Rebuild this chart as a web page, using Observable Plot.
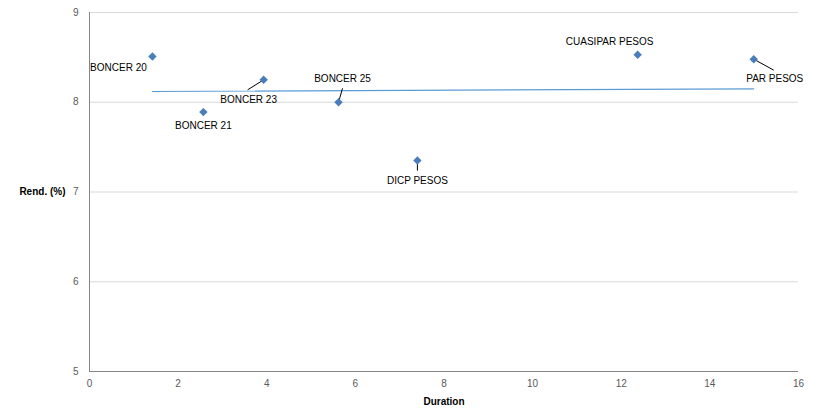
<!DOCTYPE html>
<html>
<head>
<meta charset="utf-8">
<script src="https://cdn.jsdelivr.net/npm/d3@7"></script>
<script src="https://cdn.jsdelivr.net/npm/@observablehq/plot@0.6"></script>
<style>
  html, body { margin: 0; padding: 0; background: #fff; }
</style>
</head>
<body>
<div id="chart"></div>
<script>
// ---- data ----
const names = ["BONCER 20", "BONCER 21", "BONCER 23", "BONCER 25", "DICP PESOS", "CUASIPAR PESOS", "PAR PESOS"];
const duration = [1.42, 2.57, 3.93, 5.62, 7.40, 12.37, 14.99];
const rend = [8.51, 7.89, 8.25, 8.00, 7.35, 8.53, 8.48];
const trendDuration = [1.42, 14.99];
const trendRend = [8.12, 8.15];
const xTicks = [0, 2, 4, 6, 8, 10, 12, 14, 16];
const yTicks = [5, 6, 7, 8, 9];

// ---- layout (pixels) ----
const W = 818, H = 416;
const M = {top: 12, right: 20, bottom: 45, left: 89};
const labelOffset = {
  "BONCER 20": [-34, 11],
  "BONCER 21": [0, 14],
  "BONCER 23": [-15, 20],
  "BONCER 25": [4, -23],
  "DICP PESOS": [0, 20],
  "CUASIPAR PESOS": [-28, -13],
  "PAR PESOS": [21, 20]
};
const leaderOffset = {
  "BONCER 23": [-16, 10],
  "BONCER 25": [4, -14],
  "DICP PESOS": [0, 10],
  "PAR PESOS": [20, 11]
};

const pts = names.map((n, i) => ({name: n, x: duration[i], y: rend[i]}));
const trend = trendDuration.map((d, i) => ({x: d, y: trendRend[i]}));

const xDomain = [0, 16], yDomain = [5, 9];
const pxX = (W - M.left - M.right) / (xDomain[1] - xDomain[0]);
const pxY = (H - M.top - M.bottom) / (yDomain[1] - yDomain[0]);
const leaders = pts.filter(p => leaderOffset[p.name]).map(p => ({
  x1: p.x, y1: p.y,
  x2: p.x + leaderOffset[p.name][0] / pxX,
  y2: p.y - leaderOffset[p.name][1] / pxY
}));

const labelMarks = pts.map(p => Plot.text([p], {
  x: "x", y: "y", text: "name",
  dx: labelOffset[p.name][0], dy: labelOffset[p.name][1],
  fill: "#000", fontSize: 10
}));

const chart = Plot.plot({
  width: W, height: H,
  marginTop: M.top, marginRight: M.right, marginBottom: M.bottom, marginLeft: M.left,
  style: {fontFamily: "'Liberation Sans', Arial, sans-serif", fontSize: "10px", background: "#fff"},
  x: {domain: xDomain, ticks: xTicks, label: null},
  y: {domain: yDomain, ticks: yTicks, label: null},
  marks: [
    Plot.gridY(yTicks.filter(t => t > 5), {stroke: "#d9d9d9", strokeOpacity: 1, strokeWidth: 1}),
    Plot.ruleY([5], {stroke: "#868686"}),
    Plot.ruleX([0], {stroke: "#868686"}),
    Plot.axisX(xTicks, {tickSize: 0, tickPadding: 8, tickFormat: "d", fill: "#595959", fontSize: 10, label: null}),
    Plot.axisY(yTicks, {tickSize: 0, tickPadding: 11, tickFormat: "d", fill: "#595959", fontSize: 10, label: null}),
    Plot.line(trend, {x: "x", y: "y", stroke: "#5b9bd5", strokeWidth: 1.2}),
    Plot.link(leaders, {x1: "x1", y1: "y1", x2: "x2", y2: "y2", stroke: "#000", strokeWidth: 1}),
    Plot.dot(pts, {x: "x", y: "y", symbol: "diamond2", r: 3.8, fill: "#4a7ebb", stroke: "none"}),
    ...labelMarks,
    Plot.text(["Rend. (%)"], {frameAnchor: "left", dx: -24, textAnchor: "end", fontWeight: "bold", fontSize: 10, fill: "#000"}),
    Plot.text(["Duration"], {frameAnchor: "bottom", dy: 33, fontWeight: "bold", fontSize: 10, fill: "#000"})
  ]
});
document.getElementById("chart").appendChild(chart);
</script>
</body>
</html>
